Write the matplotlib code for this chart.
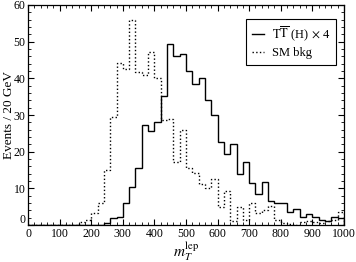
import numpy as np
import matplotlib
matplotlib.use('Agg')
import matplotlib.pyplot as plt
import matplotlib.transforms as mtransforms
from matplotlib.ticker import MultipleLocator

plt.rcParams['font.family'] = 'serif'
plt.rcParams['font.serif'] = ['Liberation Serif', 'DejaVu Serif']
plt.rcParams['mathtext.fontset'] = 'stix'

# 20 GeV bins from 0 to 1000
edges = np.arange(0, 1001, 20)

# T Tbar (H) x 4 signal
signal = [0] * 12 + [
    0.6, 1.8, 2.3, 6.0, 10.4, 15.5, 27.3, 25.6, 28.0, 35.2,
    49.4, 46.1, 46.6, 42.1, 38.5, 40.0, 34.1, 30.0, 22.7, 19.5,
    22.1, 13.9, 17.3, 11.4, 8.6, 11.8, 6.6, 5.9, 5.9, 3.6,
    4.5, 2.3, 3.0, 2.2, 1.5, 1.1, 2.3, 1.8]

# SM background
smbkg = [0] * 8 + [
    0.8, 1.3, 3.2, 6.1, 15.0, 29.5, 44.1, 42.6, 56.0, 41.8,
    40.8, 47.3, 40.0, 28.6, 29.0, 17.3, 25.8, 15.5, 14.2, 11.2,
    10.0, 12.5, 5.0, 9.3, 1.0, 5.0, 1.3, 6.0, 3.2, 4.1,
    5.2, 1.5, 0.5, 0.3, 0.0, 0.8, 1.2, 0.8, 0.5, 1.0,
    1.5, 3.5]

fig = plt.figure(figsize=(3.56, 2.62), dpi=100)
ax = fig.add_axes([0.079, 0.141, 0.887, 0.840])

ax.stairs(signal, edges, color='black', lw=1.0,
          label=r'$\mathrm{T\overline{T}}$ (H)$\,\times\,$4')
ax.stairs(smbkg, edges, color='black', lw=1.0, ls=':', label='SM bkg')

ax.set_xlim(0, 1000)
ax.set_ylim(0, 60)
ax.xaxis.set_major_locator(MultipleLocator(100))
ax.xaxis.set_minor_locator(MultipleLocator(20))
ax.yaxis.set_major_locator(MultipleLocator(10))
ax.yaxis.set_minor_locator(MultipleLocator(2))
ax.tick_params(which='both', direction='in', top=True, right=True,
               labelsize=8.5, pad=2)
ax.tick_params(which='major', length=4, width=0.8)
ax.tick_params(which='minor', length=2, width=0.6)
for s in ax.spines.values():
    s.set_linewidth(0.9)

# lift the y "0" a little off the corner, like the original
fig.canvas.draw()
for tick in ax.yaxis.get_major_ticks():
    if abs(tick.get_loc()) < 1e-9:
        off = mtransforms.ScaledTranslation(0, 5 / 72, fig.dpi_scale_trans)
        tick.label1.set_transform(tick.label1.get_transform() + off)

ax.set_ylabel('Events / 20 GeV', fontsize=9.5)
ax.yaxis.set_label_coords(-0.042, 0.5)
ax.set_xlabel(r'$m_T^{\mathrm{lep}}$', fontsize=11, labelpad=0)

leg = ax.legend(loc='upper right', bbox_to_anchor=(0.995, 0.965),
                fontsize=9, handlelength=1.0, handletextpad=0.6,
                fancybox=False, edgecolor='black', framealpha=1,
                borderpad=0.45, labelspacing=0.35)
leg.get_frame().set_linewidth(0.8)

fig.savefig('out.png', dpi=100)
